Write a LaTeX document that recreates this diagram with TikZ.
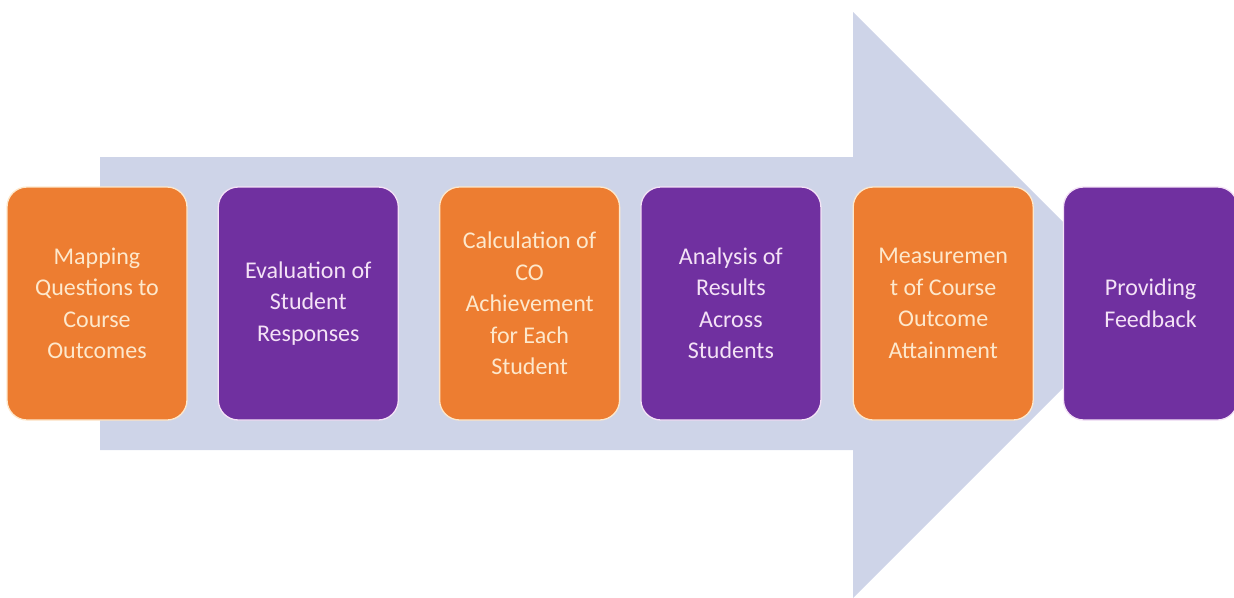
\documentclass[tikz,border=0pt]{standalone}
\usepackage{fontspec}
\setmainfont{Carlito}
\usepackage{tikz}
\usetikzlibrary{positioning}

\definecolor{arrowfill}{RGB}{206,212,232}
\definecolor{stageor}{RGB}{237,125,49}
\definecolor{stagepu}{RGB}{112,48,160}
\definecolor{textor}{RGB}{253,232,204}
\definecolor{textpu}{RGB}{244,226,246}

\tikzset{
  stagebox/.style={line width=1.3pt, rounded corners=20pt,
    minimum width=180pt, minimum height=233pt, inner sep=3pt,
    align=center, font=\fontsize{24}{31.5}\selectfont},
  orbox/.style={stagebox, fill=stageor, draw=textor, text=textor},
  pubox/.style={stagebox, fill=stagepu, draw=textpu, text=textpu},
}

\begin{document}
\begin{tikzpicture}[x=1pt,y=-1pt]
\clip (0,0) rectangle (1234,597);
% big background arrow
\fill[arrowfill] (100,157) -- (853,157) -- (853,12) -- (1146,305)
  -- (853,598) -- (853,450) -- (100,450) -- cycle;
% stages
\node[orbox] (map) at (97,303.5) {Mapping\\Questions to\\Course\\Outcomes};
\node[pubox, right=30pt of map] (eval) {Evaluation of\\Student\\Responses};
\node[orbox, right=40pt of eval] (calc) {Calculation of\\CO\\Achievement\\for Each\\Student};
\node[pubox, right=20pt of calc] (anal) {Analysis of\\Results\\Across\\Students};
\node[orbox, right=31pt of anal] (meas) {Measuremen\\t of Course\\Outcome\\Attainment};
\node[pubox, right=29pt of meas, minimum width=174pt] (feed) {Providing\\Feedback};
\end{tikzpicture}
\end{document}
